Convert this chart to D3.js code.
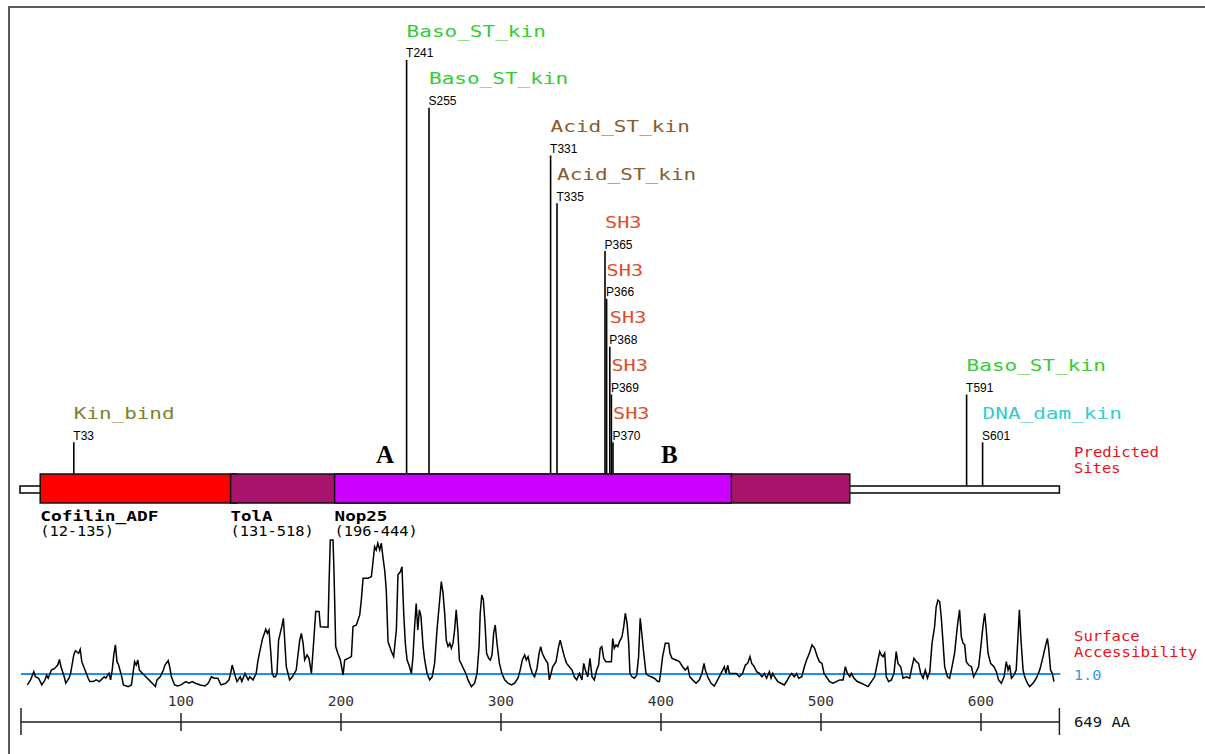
<!DOCTYPE html>
<html>
<head>
<meta charset="utf-8">
<script src="https://cdn.jsdelivr.net/npm/d3@7"></script>
<style>
    body { margin: 0; background: #fff; }
    svg { display: block; }
    .mono { font-family: "DejaVu Sans Mono", monospace; }
    .res { font-family: "Liberation Sans", Arial, sans-serif; font-size: 12px; fill: #000; }
</style>
</head>
<body>
<div id="chart"></div>
<script>
// ---- data ----
const seqLength = 649;

const domainNames  = ["Cofilin_ADF", "TolA", "Nop25"];
const domainStarts = [12, 131, 196];
const domainEnds   = [135, 518, 444];

const siteNames    = ["Kin_bind", "Baso_ST_kin", "Baso_ST_kin", "Acid_ST_kin", "Acid_ST_kin",
                      "SH3", "SH3", "SH3", "SH3", "SH3", "Baso_ST_kin", "DNA_dam_kin"];
const siteResidues = ["T33", "T241", "S255", "T331", "T335",
                      "P365", "P366", "P368", "P369", "P370", "T591", "S601"];

const axisTicks = [100, 200, 300, 400, 500, 600];
const accThreshold = 1.0;

// surface accessibility profile (residue, value)
const accResidues = [
    4,6,8,9,11,13,15,16,17,19,21,23,24,25,27,28,30,31,33,34,36,37,38,40,42,43,45,47,49,52,53,55,56,57,58,59,60,61,63,64,
    67,69,70,71,72,73,74,76,78,80,82,84,85,87,89,90,92,93,94,96,98,100,103,105,107,109,112,115,117,119,121,123,125,128,130,131,132,134,135,137,
    138,140,142,143,145,147,148,149,151,153,154,155,156,157,158,159,160,161,163,164,
    165.8,167.9,169.6,172,174.2,175.2,176.3,177.3,178.8,180,181.5,183,184.2,186.3,187.1,191.9,192.5,193.3,195,195.6,
    196.7,198,199.6,201.3,202.3,204.4,206.5,207.5,209.6,211.7,212.7,213.8,216.9,219,220,221,222,223,224.2,225.2,
    226.3,227.3,228.3,229.4,231.5,232.9,234.6,235.6,237.1,238.1,239.2,240.2,241.3,242.5,244,245,246,247,248,249,
    250,251.3,252.3,253.8,255.4,257,258.5,260,261.3,262.7,263.8,264.8,265.8,266.9,268,269,270,271,272,273,
    274,276,278,279.4,281.5,283.5,285,286.3,287,288,289,290,291,292.3,293.3,294.4,295.4,296.4,297.5,299,
    300.6,302.3,304.4,306.5,308.5,310.6,312,313.3,314.8,315.8,316.9,318.3,319.6,321,322.5,323.8,324.8,325.8,327.3,329.2,
    330.2,331.3,332.3,334.4,336,337,338.5,339.6,341,342.7,344.4,345.8,347.3,349,350.6,351.7,352.7,354.2,355.6,356.9,
    358.3,359.8,361,362,363,364.2,365.6,369,369.8,370.8,371.9,373,374,375.6,376.7,377.7,378.8,379.8,380.6,381.9,
    383.3,384.8,386,387,388,389,390.6,391.7,393.8,395.8,398,399,400,401,402.7,404.8,405.6,406.9,409.4,411.5,
    413.5,415.2,416.7,418,419.8,421.9,424,425.6,426.9,427.7,429.2,431.3,433.3,435.4,437.5,439.6,440.6,441.7,442.7,446.9,
    449,451,452.7,454.2,455.6,456.7,458.3,459.8,461.5,463.1,464.6,466,467.7,468.8,469.8,471.5,473,475,477,478.5,
    480,481.7,483.3,484.8,486,488,489.6,491,492.7,494.4,496,497.7,499,500.6,501.9,503.3,505.4,507.5,509.6,511.7,
    513.8,515.2,516.5,518,519,520.6,522.7,525.2,527.3,529.4,531.5,533.5,535.2,536.7,537.7,538.8,539.8,540.8,542.3,544,
    545.6,547,548.1,549.8,551.3,553.3,555.4,556.9,558.1,559.6,561,562.3,563.8,565.2,566.5,568,569.4,571,572,573.1,
    574.2,575.2,576.3,577.3,579,580.4,581.9,583.5,585.2,586.6,587.7,588.8,589.8,590.8,592.3,594,595.4,597,598.5,599.7,
    601.2,602.3,603.3,604.4,606,608.1,609.6,611,612.7,614.4,615.8,616.9,617.9,619,620.6,622,623,624,625,626.3,
    627.3,629,630.4,632.5,634.6,636.7,638.8,640.2,641.5,642.3,643.5,644.6,645.6
];
const accValues = [
    0.61,0.79,1.08,0.90,0.85,0.61,0.79,0.96,0.85,1.14,1.20,1.32,1.52,1.26,0.90,0.67,0.85,1.02,1.68,1.83,1.74,1.88,1.44,1.14,0.85,0.73,0.73,0.79,0.73,0.90,0.85,1.02,0.79,1.14,1.68,2.04,1.44,1.32,0.90,0.61,
    0.55,0.61,1.02,1.44,1.32,1.50,1.14,1.02,0.90,0.79,0.67,0.55,0.79,0.90,1.14,1.32,1.48,1.24,0.90,0.61,0.57,0.61,0.73,0.67,0.73,0.67,0.61,0.57,0.67,0.90,0.85,0.85,0.61,0.67,0.79,1.02,1.32,0.90,0.73,0.90,
    0.73,1.02,0.79,0.90,0.79,1.02,1.44,1.74,2.27,2.60,2.45,2.57,1.86,1.02,0.90,0.90,1.02,2.21,2.69,2.99,
    1.26,0.79,0.90,1.14,2.21,2.45,2.10,1.50,1.68,1.56,1.02,2.21,3.23,3.23,2.69,2.67,4.18,5.79,5.79,4.71,
    1.98,1.74,1.50,0.96,1.50,1.56,1.62,2.69,2.75,3.11,3.64,4.42,4.42,4.48,5.01,5.55,5.43,5.67,5.43,5.67,
    5.13,4.71,4.00,2.15,1.80,1.62,2.57,4.54,4.65,4.83,3.17,2.10,1.50,1.32,1.02,1.62,2.69,3.52,2.57,3.29,
    3.05,1.98,1.50,1.02,0.79,0.90,1.38,2.57,3.40,4.30,3.88,3.17,2.21,1.98,2.10,1.92,2.10,2.57,3.29,2.57,
    1.50,1.26,1.02,0.79,0.55,0.67,1.02,1.98,3.17,3.82,3.64,2.81,1.74,1.56,1.50,1.68,2.45,2.75,2.10,1.38,
    1.02,0.79,0.67,0.61,0.67,0.85,1.14,1.50,1.68,1.50,1.62,1.26,1.02,0.90,1.20,1.74,1.98,1.74,1.56,1.38,
    0.79,1.02,1.26,1.44,1.98,2.21,1.86,1.62,1.38,1.26,1.14,0.90,0.79,1.02,0.79,1.38,1.14,0.90,1.56,0.90,
    0.79,1.14,1.32,1.92,1.98,1.56,1.44,1.44,2.27,1.92,2.04,1.98,2.15,2.33,2.69,3.17,2.81,2.10,1.02,0.90,
    0.85,0.96,1.62,2.99,2.45,1.86,1.02,0.96,0.90,0.85,0.73,0.73,1.14,1.62,2.10,2.10,1.74,1.56,1.50,1.44,
    1.26,1.14,1.26,0.90,0.79,0.67,0.79,1.02,1.38,1.14,0.90,0.67,0.57,0.79,1.02,1.26,1.02,1.32,1.02,1.02,
    0.90,1.02,1.32,1.38,1.62,1.38,1.26,1.08,1.02,0.90,1.02,0.85,1.08,0.85,1.02,0.85,0.73,0.67,0.61,0.73,
    0.90,1.02,0.90,1.02,0.85,0.90,1.26,1.50,1.74,2.04,1.92,1.62,1.44,1.38,1.02,0.90,0.73,0.67,0.73,0.79,
    0.79,1.26,1.02,0.90,1.02,0.85,0.73,0.67,0.61,0.55,0.73,0.90,1.38,1.80,1.68,1.62,1.74,0.90,0.73,0.79,
    1.02,1.80,1.38,1.26,0.85,0.90,0.85,1.26,1.56,1.44,1.38,1.02,0.85,1.14,0.85,1.08,2.10,2.69,3.40,3.64,
    3.58,2.99,2.10,1.26,0.90,0.85,1.26,1.74,2.69,3.29,2.33,2.10,2.04,1.44,1.32,1.26,0.90,1.08,1.26,1.86,
    2.69,3.17,2.57,1.74,1.38,1.26,1.08,0.79,0.67,0.90,1.44,1.14,1.32,0.85,0.96,1.14,2.21,3.29,2.21,1.14,
    0.90,0.67,0.55,0.67,0.85,1.14,1.62,1.98,2.27,1.92,1.14,1.02,0.73
];

// ---- styles ----
const domainColors = { "Cofilin_ADF": "#ff0000", "TolA": "#a8136b", "Nop25": "#cc00ff" };
const siteColors = {
    "Kin_bind": "#80802e",
    "Baso_ST_kin": "#33cc33",
    "Acid_ST_kin": "#8b5a2e",
    "SH3": "#e24a2a",
    "DNA_dam_kin": "#33cccc"
};

const width = 1205, height = 754;
const bar = { top: 474, bottom: 503, thinTop: 486, thinBottom: 493 };
const nameAdvance = 12.83;     // width of one character of the site name font
const levelStep = 47.8;
const bottomNameY = 413;

const svg = d3.select("#chart").append("svg")
    .attr("width", width)
    .attr("height", height);

// mono text stretched to the wide bitmap font of the original
function monoText(sel, str, advance, size) {
    return sel.append("text")
        .attr("class", "mono")
        .attr("font-size", size)
        .attr("textLength", str.length * advance - advance * 0.15)
        .attr("lengthAdjust", "spacingAndGlyphs")
        .text(str);
}

// frame
svg.append("rect")
    .attr("x", 9).attr("y", 7)
    .attr("width", 1230).attr("height", 800)
    .attr("fill", "none")
    .attr("stroke", "#5a5a5a")
    .attr("stroke-width", 2);

const x = d3.scaleLinear().domain([0, seqLength]).range([21, 1059.4]);
const y = d3.scaleLinear().domain([0, 6]).range([702, 534]);

// ---- site layout: from right to left, stack labels that would overlap ----
let sites = siteNames.map((name, i) => ({
    name: name,
    residue: siteResidues[i],
    pos: +siteResidues[i].slice(1)
}));
sites.sort((a, b) => b.pos - a.pos);
let prev = null;
sites.forEach(s => {
    const x0 = x(s.pos);
    const x1 = x0 + s.name.length * nameAdvance;
    if (prev && x1 > prev.x0) {
        s.depth = prev.depth + 1;
    } else {
        s.depth = 0;
    }
    s.x0 = x0;
    prev = s;
});

// ---- sequence bar ----
svg.append("rect")
    .attr("x", x(0) - 1)
    .attr("y", bar.thinTop)
    .attr("width", x(seqLength) - x(0) + 1)
    .attr("height", bar.thinBottom - bar.thinTop)
    .attr("fill", "#fff")
    .attr("stroke", "#000")
    .attr("stroke-width", 1.5);

// site lines and labels
const siteG = svg.append("g");
sites.forEach(s => {
    const nameY = bottomNameY - levelStep * s.depth;
    const resY = nameY + 22.3;
    const inDomain = s.pos >= d3.min(domainStarts) && s.pos <= d3.max(domainEnds);
    siteG.append("line")
        .attr("x1", x(s.pos)).attr("x2", x(s.pos))
        .attr("y1", resY + 7)
        .attr("y2", inDomain ? bar.top : bar.thinTop)
        .attr("stroke", "#000")
        .attr("stroke-width", 1.6);
    monoText(siteG, s.name, nameAdvance, 16)
        .attr("x", x(s.pos))
        .attr("y", nameY + 6)
        .attr("fill", siteColors[s.name]);
    siteG.append("text")
        .attr("class", "res")
        .attr("x", x(s.pos) - 0.5)
        .attr("y", resY + 4.5)
        .text(s.residue);
});

// domains
domainNames.forEach((name, i) => {
    svg.append("rect")
        .attr("x", x(domainStarts[i]))
        .attr("y", bar.top)
        .attr("width", x(domainEnds[i]) - x(domainStarts[i]))
        .attr("height", bar.bottom - bar.top)
        .attr("fill", domainColors[name])
        .attr("stroke", "#111")
        .attr("stroke-width", 1.5);
    monoText(svg, name, 10.9, 14)
        .attr("x", x(domainStarts[i]))
        .attr("y", 521)
        .attr("font-weight", "bold")
        .attr("fill", "#000");
    monoText(svg, `(${domainStarts[i]}-${domainEnds[i]})`, 9.4, 14)
        .attr("x", x(domainStarts[i]))
        .attr("y", 536)
        .attr("fill", "#000");
});

// A / B annotations
[["A", 376, 463], ["B", 661, 463]].forEach(d => {
    svg.append("text")
        .attr("x", d[1]).attr("y", d[2])
        .attr("font-family", "Liberation Serif, serif")
        .attr("font-weight", "bold")
        .attr("font-size", 25)
        .attr("fill", "#000")
        .text(d[0]);
});

// right-hand captions
function caption(lines, y0, color) {
    lines.forEach((t, i) => {
        monoText(svg, t, 9.6, 14)
            .attr("x", 1074)
            .attr("y", y0 + i * 16)
            .attr("fill", color);
    });
}
caption(["Predicted", "Sites"], 457, "#e8101a");
caption(["Surface", "Accessibility"], 641, "#e8101a");
caption(["1.0"], 680, "#3399ee");
caption([`${seqLength} AA`], 727, "#111");

// ---- surface accessibility ----
svg.append("line")
    .attr("x1", x(0)).attr("x2", x(seqLength) + 1)
    .attr("y1", y(accThreshold)).attr("y2", y(accThreshold))
    .attr("stroke", "#1e90ee")
    .attr("stroke-width", 2);

const accData = accResidues.map((r, i) => ({ r: r, v: accValues[i] }));
svg.append("path")
    .datum(accData)
    .attr("fill", "none")
    .attr("stroke", "#000")
    .attr("stroke-width", 1.5)
    .attr("stroke-linejoin", "miter")
    .attr("d", d3.line().x(d => x(d.r)).y(d => y(d.v)));

// ---- residue axis ----
const axisY = 722;
const axisG = svg.append("g");
axisG.append("line")
    .attr("x1", x(0)).attr("x2", x(seqLength))
    .attr("y1", axisY).attr("y2", axisY)
    .attr("stroke", "#555")
    .attr("stroke-width", 2);
[0, seqLength].forEach(v => {
    axisG.append("line")
        .attr("x1", x(v)).attr("x2", x(v))
        .attr("y1", axisY - 14).attr("y2", axisY + 13)
        .attr("stroke", "#222")
        .attr("stroke-width", 1.5);
});
axisG.selectAll("line.tick")
    .data(axisTicks)
    .enter()
    .append("line")
    .attr("class", "tick")
    .attr("x1", d => x(d)).attr("x2", d => x(d))
    .attr("y1", axisY - 9).attr("y2", axisY + 9)
    .attr("stroke", "#222")
    .attr("stroke-width", 1.5);
axisTicks.forEach(d => {
    monoText(axisG, String(d), 9.2, 14)
        .attr("x", x(d) - 13.3)
        .attr("y", 706)
        .attr("fill", "#333");
});
</script>
</body>
</html>
